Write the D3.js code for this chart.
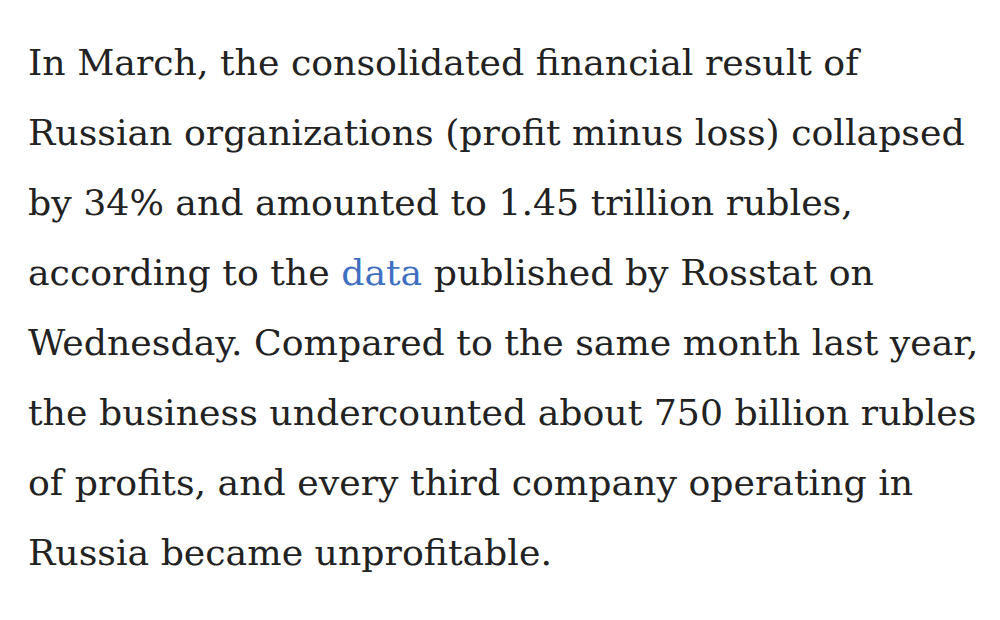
<!DOCTYPE html>
<html>
<head>
<meta charset="utf-8">
<script src="https://cdn.jsdelivr.net/npm/d3@7"></script>
<style>
  body { margin: 0; background: #fff; }
</style>
</head>
<body>
<svg id="page" width="1000" height="620"></svg>
<script>
// text lines, each split in runs so the link word can be coloured
const lines = [
  [["In March, the consolidated financial result of"]],
  [["Russian organizations (profit minus loss) collapsed"]],
  [["by 34% and amounted to 1.45 trillion rubles,"]],
  [["according to the "], ["data", "link"], [" published by Rosstat on"]],
  [["Wednesday. Compared to the same month last year,"]],
  [["the business undercounted about 750 billion rubles"]],
  [["of profits, and every third company operating in"]],
  [["Russia became unprofitable."]]
];
const lineIndex = d3.range(lines.length);

const svg = d3.select("#page");
const left = 28;
const y = d3.scaleLinear().domain([0, lines.length - 1]).range([75, 565]);

const text = svg.selectAll("text.line")
  .data(lineIndex)
  .enter()
  .append("text")
  .attr("class", "line")
  .attr("x", left)
  .attr("y", d => y(d))
  .style("font-family", "'DejaVu Serif', 'Liberation Serif', serif")
  .style("font-size", "36px")
  .style("fill", "#222");

text.selectAll("tspan")
  .data(d => lines[d])
  .enter()
  .append("tspan")
  .text(d => d[0])
  .style("fill", d => d[1] === "link" ? "#3f6fc1" : null);

// fit the font so the widest line ends where it does in the reference
const w = text.filter(d => d === 1).node().getComputedTextLength();
const size = 36 * 937 / w;
text.style("font-size", size + "px");
</script>
</body>
</html>
